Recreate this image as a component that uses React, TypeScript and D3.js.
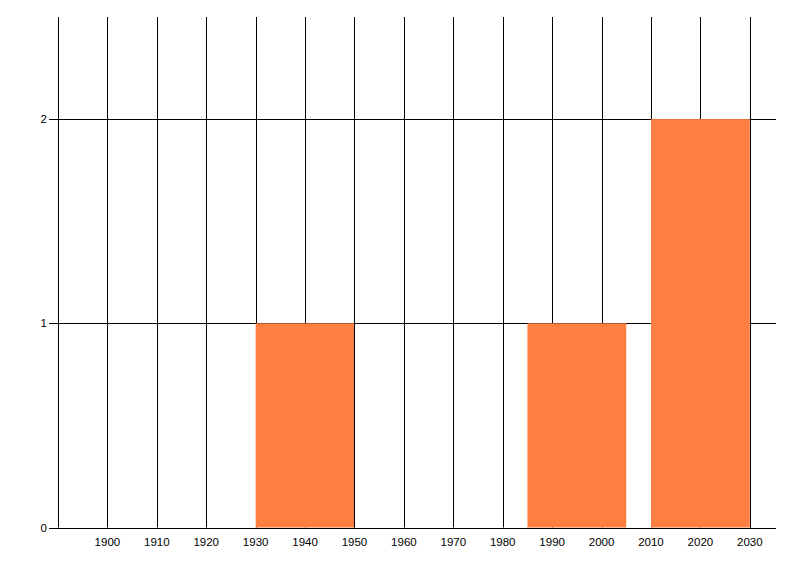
import React from 'react';
import * as d3 from 'd3';

// Histogram bins (start year, end year, count)
const binStarts = [1930, 1985, 2010];
const binEnds = [1950, 2005, 2030];
const binCounts = [1, 1, 2];

const xTicks = [1900, 1910, 1920, 1930, 1940, 1950, 1960, 1970, 1980, 1990, 2000, 2010, 2020, 2030];
const xGridExtra = [1890];
const yTicks = [0, 1, 2];

const W = 800;
const H = 576;
const margin = { left: 58, right: 24, top: 17, bottom: 48.5 };

export default function App() {
  const x = d3.scaleLinear().domain([1890, 2035.3]).range([margin.left, W - margin.right]);
  const y = d3.scaleLinear().domain([0, 2.5]).range([H - margin.bottom, margin.top]);
  const font = '"Liberation Sans", Arial, sans-serif';

  return (
    <svg width={W} height={H} style={{ position: 'absolute', left: 0, top: 0, background: '#fff' }}>
      {/* vertical grid */}
      {[...xGridExtra, ...xTicks].map(t => (
        <line key={'vx' + t} x1={Math.round(x(t)) + 0.5} x2={Math.round(x(t)) + 0.5}
          y1={y.range()[1]} y2={y(0)} stroke="#000" strokeWidth={1} />
      ))}
      {/* horizontal grid */}
      {yTicks.map(t => (
        <line key={'hy' + t} x1={margin.left - 9} x2={W - margin.right}
          y1={Math.round(y(t)) + 0.5} y2={Math.round(y(t)) + 0.5} stroke="#000" strokeWidth={1} />
      ))}
      {/* bars */}
      {binStarts.map((s, i) => (
        <rect key={'b' + i} x={x(s)} y={y(binCounts[i])} width={x(binEnds[i]) - x(s)}
          height={y(0) - y(binCounts[i])} fill="#ff7f41" />
      ))}
      {/* grid lines that sit on bar edges */}
      {binEnds.filter(e => xTicks.includes(e)).map(e => (
        <line key={'e' + e} x1={Math.round(x(e)) + 0.5} x2={Math.round(x(e)) + 0.5}
          y1={y.range()[1]} y2={y(0)} stroke="#000" strokeWidth={1} />
      ))}
      {/* x axis line */}
      <line x1={margin.left} x2={W - margin.right} y1={Math.round(y(0)) + 0.5} y2={Math.round(y(0)) + 0.5} stroke="#000" />
      {xTicks.map(t => (
        <text key={'xt' + t} x={x(t)} y={y(0) + 18} textAnchor="middle" fontFamily={font} fontSize={11.5} fill="#000">{t}</text>
      ))}
      {yTicks.map(t => (
        <text key={'yt' + t} x={margin.left - 11} y={y(t) + 4} textAnchor="end" fontFamily={font} fontSize={11.5} fill="#000">{t}</text>
      ))}
    </svg>
  );
}
